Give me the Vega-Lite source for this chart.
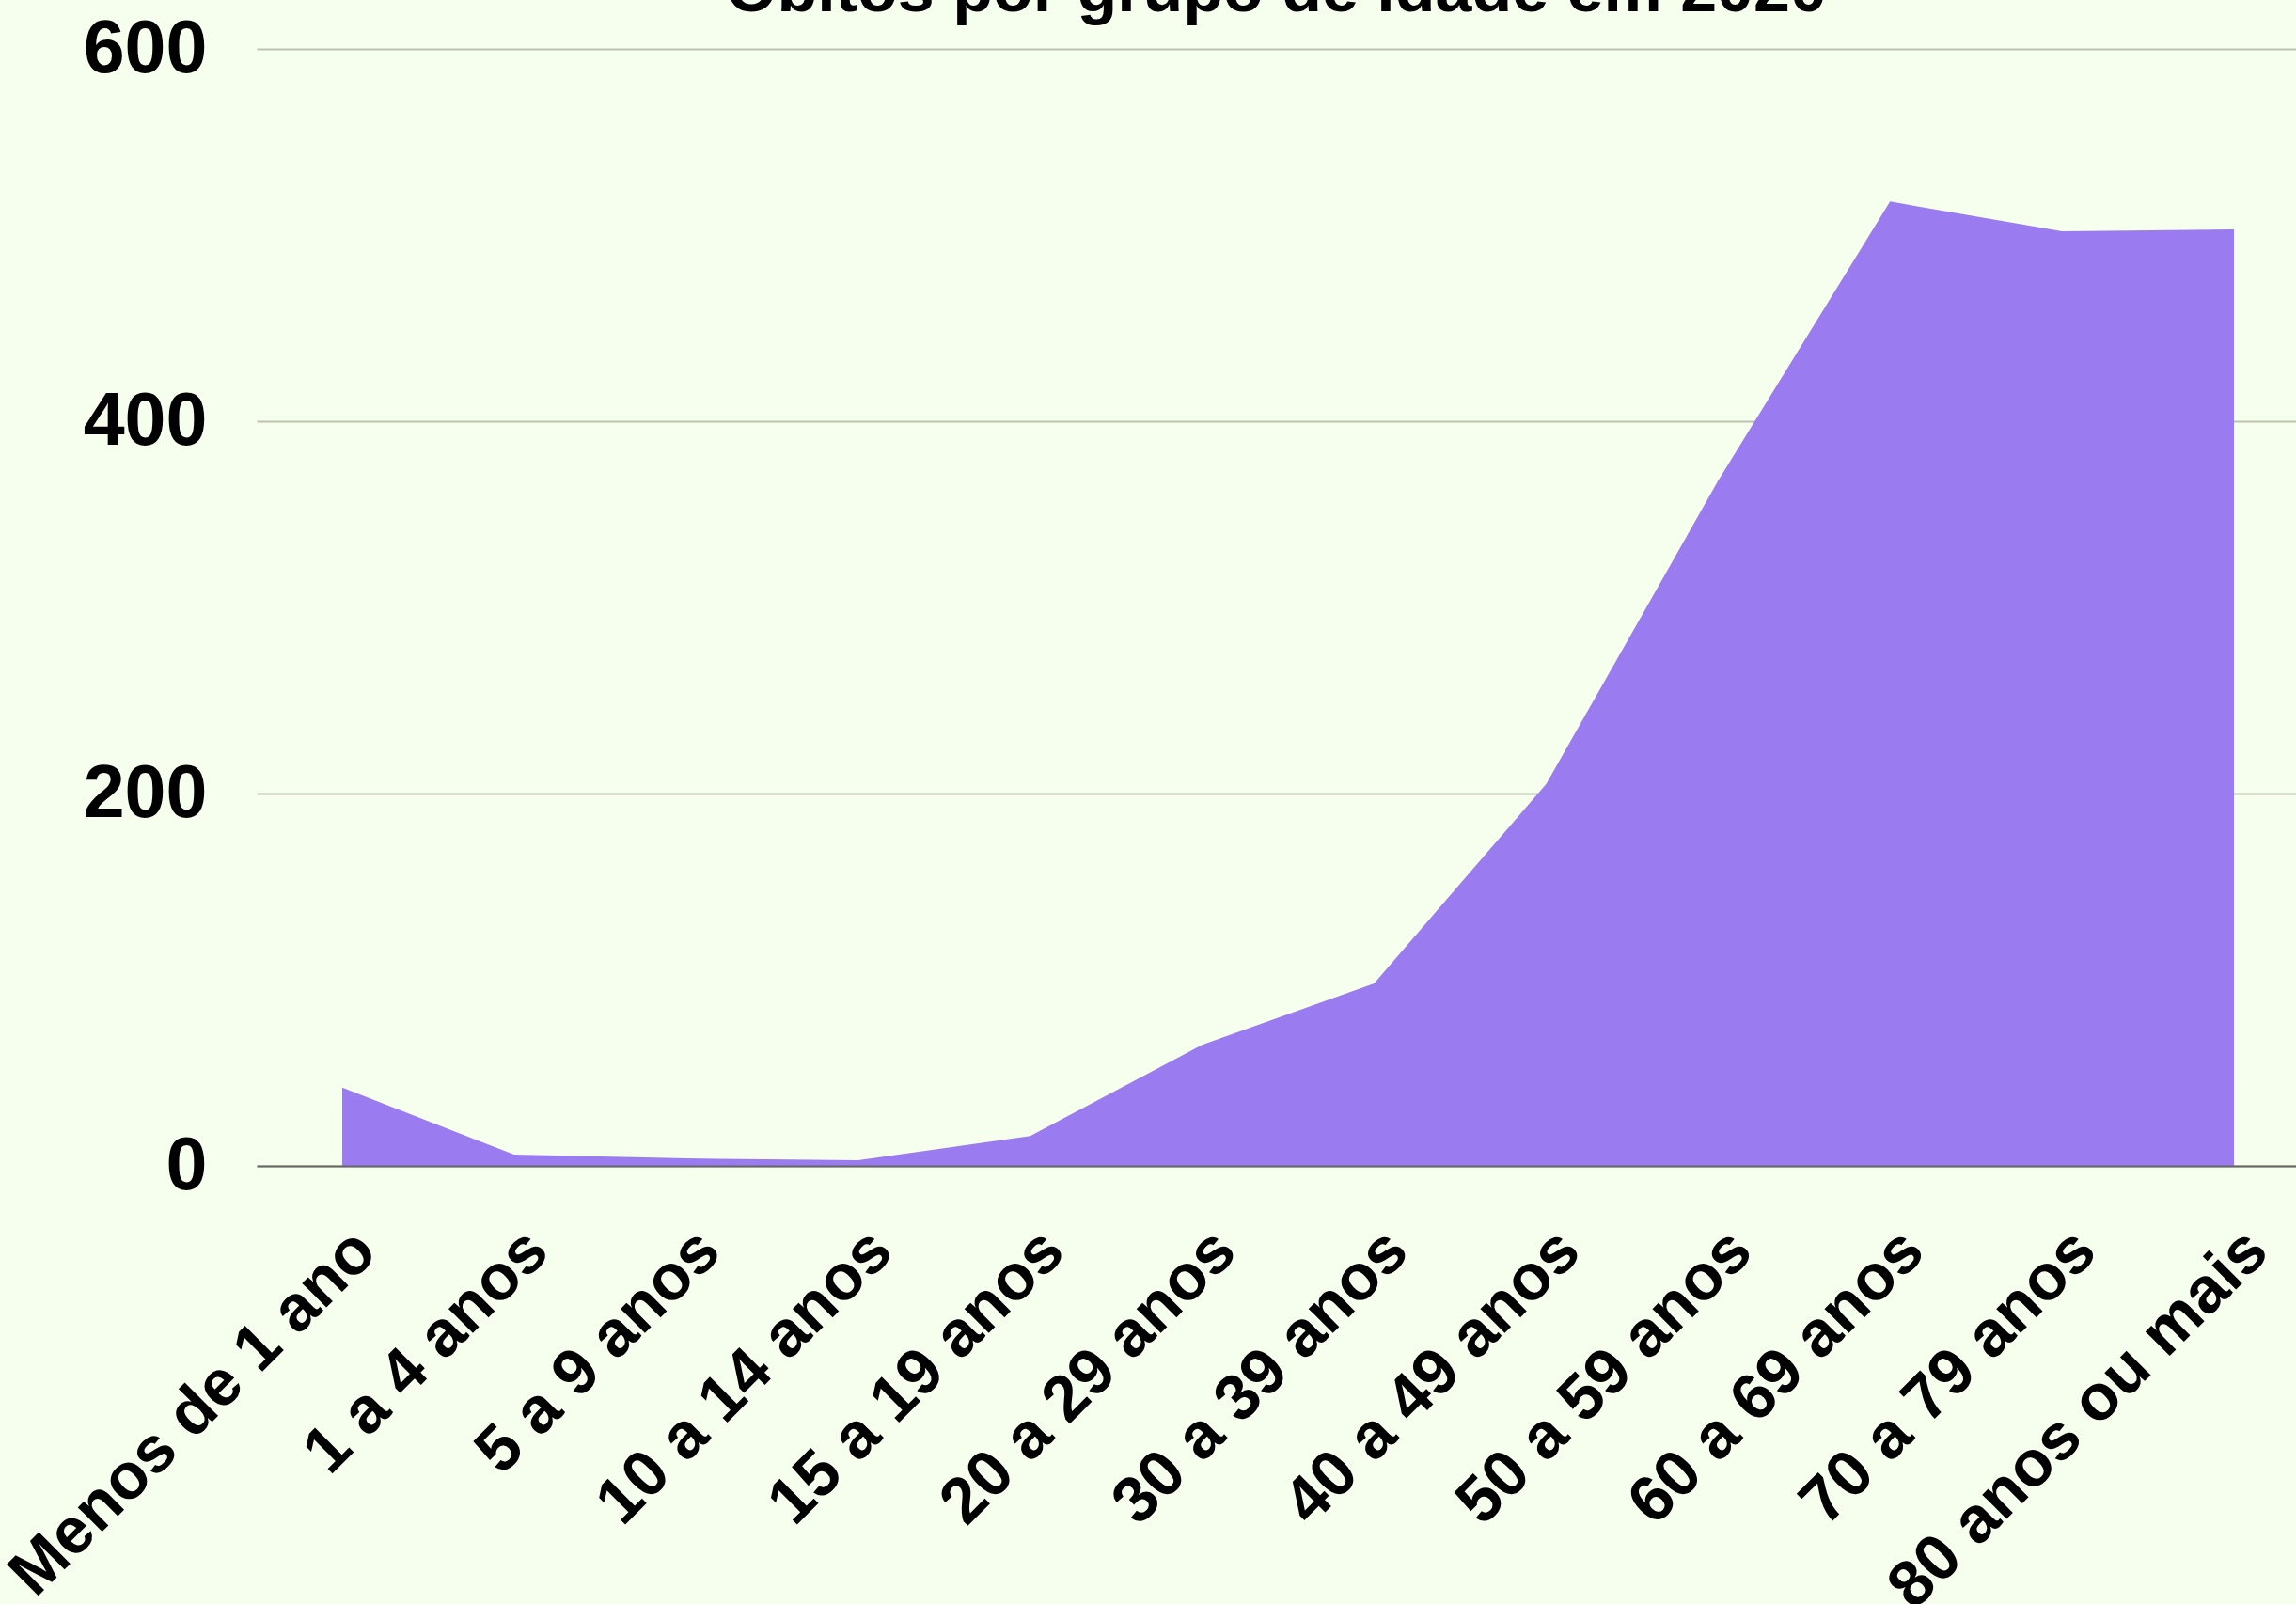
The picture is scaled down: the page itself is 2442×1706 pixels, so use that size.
{
  "$schema": "https://vega.github.io/schema/vega-lite/v6.json",
  "width": 2169,
  "height": 1188,
  "autosize": {"type": "none"},
  "padding": {"left": 273, "top": 52, "right": 0, "bottom": 466},
  "background": "#F6FFED",
  "title": {
    "text": "Óbitos por grupo de idade em 2020",
    "font": "Liberation Sans",
    "fontSize": 70,
    "fontWeight": "bold",
    "color": "#000000",
    "anchor": "middle",
    "offset": -14
  },
  "data": {
    "values": [
      {"grupo": "Menos de 1 ano", "obitos": 42},
      {"grupo": "1 a 4 anos", "obitos": 6},
      {"grupo": "5 a 9 anos", "obitos": 4},
      {"grupo": "10 a 14 anos", "obitos": 3},
      {"grupo": "15 a 19 anos", "obitos": 16},
      {"grupo": "20 a 29 anos", "obitos": 65},
      {"grupo": "30 a 39 anos", "obitos": 98},
      {"grupo": "40 a 49 anos", "obitos": 205},
      {"grupo": "50 a 59 anos", "obitos": 368},
      {"grupo": "60 a 69 anos", "obitos": 518},
      {"grupo": "70 a 79 anos", "obitos": 502},
      {"grupo": "80 anos ou mais", "obitos": 503}
    ]
  },
  "mark": {"type": "area", "color": "#9A7BF0", "opacity": 1},
  "encoding": {
    "x": {
      "field": "grupo",
      "type": "ordinal",
      "sort": null,
      "scale": {"type": "point", "padding": 0.429, "align": 0.58},
      "axis": {
        "title": null,
        "labelAngle": -45,
        "labelAlign": "right",
        "labelBaseline": "top",
        "labelFont": "Liberation Sans",
        "labelFontSize": 69,
        "labelFontWeight": "bold",
        "labelColor": "#000000",
        "labelPadding": 55,
        "labelLimit": 0,
        "labelOverlap": false,
        "ticks": false,
        "grid": false,
        "domainColor": "#666666",
        "domainWidth": 2,
        "zindex": 1
      }
    },
    "y": {
      "field": "obitos",
      "type": "quantitative",
      "scale": {"domain": [0, 600], "nice": false},
      "axis": {
        "title": null,
        "values": [0, 200, 400, 600],
        "labelFont": "Liberation Sans",
        "labelFontSize": 79,
        "labelFontWeight": "bold",
        "labelColor": "#000000",
        "labelPadding": 53,
        "ticks": false,
        "domain": false,
        "grid": true,
        "gridColor": "#BDC3AF",
        "gridWidth": 2
      }
    }
  },
  "config": {"view": {"stroke": null}}
}
